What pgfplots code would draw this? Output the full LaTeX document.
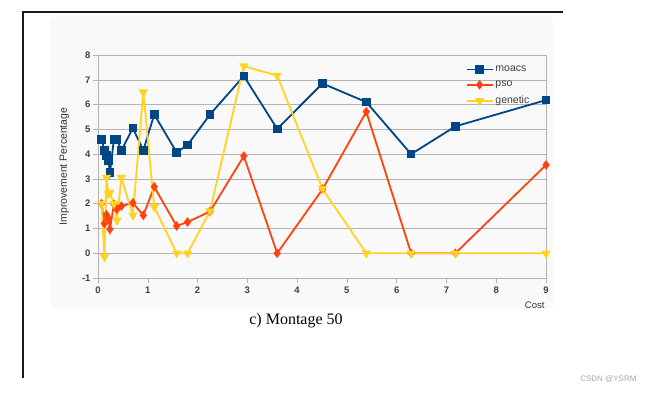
\documentclass[border=0pt]{standalone}
\usepackage{fontspec}
\setmainfont{Liberation Sans}
\newfontfamily\capserif{Liberation Serif}
\usepackage{pgfplots}
\pgfplotsset{compat=1.18}
\definecolor{cmoacs}{HTML}{004586}
\definecolor{cpso}{HTML}{FF420E}
\definecolor{cgen}{HTML}{FFD320}
\definecolor{cgrid}{HTML}{B3B3B3}
\definecolor{cbg}{HTML}{F9F9F9}
\begin{document}
\begin{tikzpicture}[x=1pt,y=1pt]
\path[use as bounding box] (0,0) rectangle (650,392);
\fill[cbg] (50,84) rectangle (553,375);
\draw[line width=2pt,black!90] (23,14) -- (23,380) -- (563,380);
\begin{axis}[
  at={(98pt,114pt)}, anchor=south west,
  scale only axis, width=448pt, height=223pt,
  xmin=0, xmax=9, ymin=-1, ymax=8,
  xtick={0,...,9}, ytick={-1,0,...,8},
  clip=false,
  axis line style={cgrid},
  tick style={cgrid, thin},
  tick align=outside, major tick length=5pt,
  xtick pos=bottom, ytick pos=left,
  ymajorgrids, grid style={cgrid, thin},
  ticklabel style={font=\fontsize{9.5}{10}\selectfont\bfseries, text=black!75},
  yticklabel style={xshift=1pt},
  /pgf/number format/assume math mode=true,
  ylabel={Improvement Percentage},
  ylabel style={font=\fontsize{10.5}{11}\selectfont, text=black!80},
  ylabel shift=6pt,
  every axis plot/.append style={line width=1.8pt},
  legend style={at={(rel axis cs:0.818,0.965)}, anchor=north west, draw=none, fill=none,
    font=\fontsize{10.5}{11}\selectfont, text=black!75, row sep=4pt, inner sep=1pt},
  legend cell align=left,
  legend image code/.code={\draw[line width=1.8pt, mark repeat=2,mark phase=2] plot coordinates {(0pt,0pt)(13pt,0pt)(26pt,0pt)};},
]
\addplot[cmoacs, mark=square*, mark size=3.4pt, mark options={solid}] coordinates {
(0.07,4.6)(0.13,4.15)(0.17,3.95)(0.21,3.75)(0.24,3.25)(0.32,4.6)(0.38,4.6)(0.47,4.15)
(0.70,5.05)(0.91,4.15)(1.13,5.6)(1.58,4.07)(1.80,4.37)(2.25,5.6)(2.93,7.15)(3.60,5.02)
(4.51,6.85)(5.39,6.1)(6.29,4.0)(7.18,5.12)(9.0,6.18)};
\addlegendentry{moacs}
\addplot[cpso, mark=diamond*, mark size=3.4pt] coordinates {
(0.07,2.0)(0.13,1.2)(0.17,1.55)(0.21,1.4)(0.24,0.97)(0.32,1.98)(0.38,1.78)(0.47,1.9)
(0.70,2.03)(0.91,1.53)(1.13,2.68)(1.58,1.1)(1.80,1.26)(2.25,1.68)(2.93,3.92)(3.60,0)
(4.51,2.58)(5.39,5.71)(6.29,0)(7.18,0)(9.0,3.56)};
\addlegendentry{pso}
\addplot[cgen, mark=triangle*, mark size=3.6pt, mark options={rotate=180}] coordinates {
(0.07,2.0)(0.13,-0.15)(0.17,3.05)(0.21,2.4)(0.24,2.45)(0.32,2.0)(0.38,1.33)(0.47,3.05)
(0.70,1.53)(0.91,6.5)(1.13,1.87)(1.58,0)(1.80,0)(2.25,1.7)(2.93,7.55)(3.60,7.17)
(4.51,2.6)(5.39,0)(6.29,0)(7.18,0)(9.0,0)};
\addlegendentry{genetic}
\end{axis}
\node[anchor=east, font=\fontsize{9.5}{10}\selectfont, text=black!80] at (548,87) {Cost};
\node[font=\capserif\fontsize{16}{18}\selectfont] at (296,71) {c) Montage 50};
\node[anchor=east, font=\fontsize{8}{9}\selectfont, text=black!35] at (640,13) {CSDN @YSRM};
\end{tikzpicture}
\end{document}
